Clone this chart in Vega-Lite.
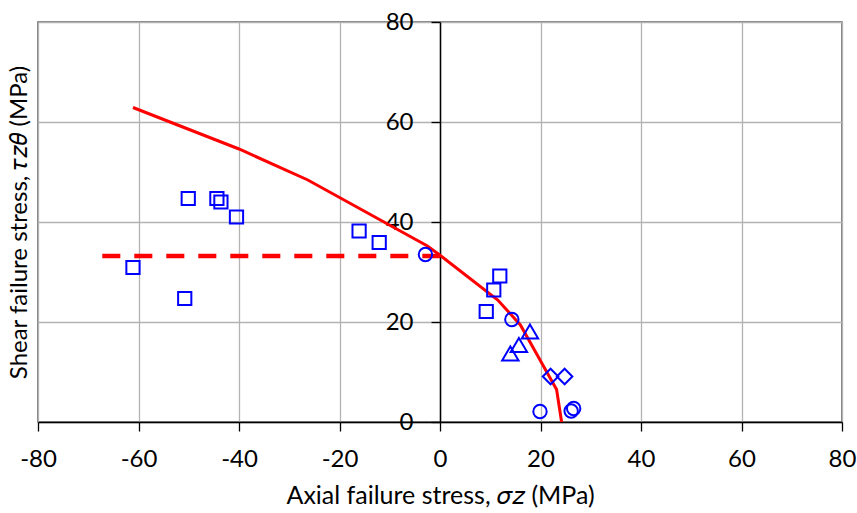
{
  "$schema": "https://vega.github.io/schema/vega-lite/v6.json",
  "width": 804,
  "height": 400,
  "autosize": {"type": "none"},
  "padding": {"left": 38, "top": 22, "right": 15, "bottom": 91},
  "background": "white",
  "config": {
    "view": {"stroke": "#595959", "strokeWidth": 1.5},
    "font": "Lato"
  },
  "datasets": {
    "curve": [
      {"x": -61.1, "y": 62.9},
      {"x": -40.0, "y": 54.6},
      {"x": -26.3, "y": 48.4},
      {"x": -2.5, "y": 35.2},
      {"x": 0.2, "y": 33.2},
      {"x": 11.5, "y": 24.4},
      {"x": 16.0, "y": 19.4},
      {"x": 23.2, "y": 6.5},
      {"x": 24.2, "y": 0}
    ],
    "dashed": [
      {"x": -67.2, "y": 33.2},
      {"x": 0, "y": 33.2}
    ],
    "tests": [
      {"series": "Square", "x": -61.1, "y": 30.9},
      {"series": "Square", "x": -50.8, "y": 24.7},
      {"series": "Square", "x": -50.1, "y": 44.7},
      {"series": "Square", "x": -44.4, "y": 44.7},
      {"series": "Square", "x": -43.6, "y": 44.0},
      {"series": "Square", "x": -40.5, "y": 41.0},
      {"series": "Square", "x": -16.1, "y": 38.2},
      {"series": "Square", "x": -12.1, "y": 35.9},
      {"series": "Square", "x": 9.2, "y": 22.1},
      {"series": "Square", "x": 10.7, "y": 26.4},
      {"series": "Square", "x": 11.9, "y": 29.2},
      {"series": "Circle", "x": -2.9, "y": 33.5},
      {"series": "Circle", "x": 14.3, "y": 20.5},
      {"series": "Circle", "x": 19.9, "y": 2.1},
      {"series": "Circle", "x": 26.1, "y": 2.2},
      {"series": "Circle", "x": 26.6, "y": 2.7},
      {"series": "Triangle", "x": 14.0, "y": 13.7},
      {"series": "Triangle", "x": 15.7, "y": 15.4},
      {"series": "Triangle", "x": 17.9, "y": 18.1},
      {"series": "Diamond", "x": 22.0, "y": 9.1},
      {"series": "Diamond", "x": 24.8, "y": 9.1}
    ]
  },
  "encoding": {
    "x": {
      "field": "x",
      "type": "quantitative",
      "scale": {"domain": [-80, 80], "nice": false, "zero": false},
      "axis": {
        "values": [-80, -60, -40, -20, 0, 20, 40, 60, 80],
        "labelExpr": "'' + datum.value",
        "grid": true,
        "gridColor": "#b3b3b3",
        "gridWidth": 1.3,
        "domainColor": "black",
        "domainWidth": 1.5,
        "tickColor": "black",
        "tickWidth": 1.3,
        "tickSize": 9,
        "labelFontSize": 24,
        "labelColor": "black",
        "labelFlush": false,
        "labelPadding": 16,
        "labelFont": "Lato",
        "title": "Axial failure stress, 𝜎𝑧 (MPa)",
        "titleFont": "Lato",
        "titleFontSize": 25,
        "titleFontWeight": "normal",
        "titleColor": "black",
        "titlePadding": 12
      }
    },
    "y": {
      "field": "y",
      "type": "quantitative",
      "scale": {"domain": [0, 80], "nice": false},
      "axis": {
        "values": [0, 20, 40, 60, 80],
        "labelExpr": "'' + datum.value",
        "grid": true,
        "gridColor": "#b3b3b3",
        "gridWidth": 1.3,
        "offset": -402,
        "domainColor": "black",
        "domainWidth": 1.5,
        "tickColor": "black",
        "tickWidth": 1.3,
        "tickSize": 9,
        "labelFontSize": 24,
        "labelColor": "black",
        "labelFlush": false,
        "labelPadding": 18,
        "labelFont": "Lato",
        "title": "Shear failure stress, 𝜏𝑧𝜃 (MPa)",
        "titleFont": "Lato",
        "titleFontSize": 24,
        "titleFontWeight": "normal",
        "titleColor": "black",
        "titleX": -421,
        "titleY": 200,
        "titleAngle": -90,
        "titleAlign": "center",
        "titleBaseline": "middle"
      }
    }
  },
  "layer": [
    {
      "data": {"name": "dashed"},
      "mark": {"type": "line", "color": "#ff0000", "strokeWidth": 4.5, "strokeDash": [18, 14], "strokeCap": "butt"}
    },
    {
      "data": {"name": "curve"},
      "mark": {"type": "line", "color": "#ff0000", "strokeWidth": 3}
    },
    {
      "data": {"name": "tests"},
      "mark": {"type": "point", "filled": false, "strokeWidth": 2, "color": "#0000ff", "opacity": 1},
      "encoding": {
        "shape": {
          "field": "series",
          "type": "nominal",
          "scale": {"domain": ["Square", "Circle", "Triangle", "Diamond"], "range": ["square", "circle", "triangle-up", "diamond"]},
          "legend": null
        },
        "size": {
          "field": "series",
          "type": "nominal",
          "scale": {"type": "ordinal", "domain": ["Square", "Circle", "Triangle", "Diamond"], "range": [175, 180, 270, 240]},
          "legend": null
        }
      }
    }
  ]
}
